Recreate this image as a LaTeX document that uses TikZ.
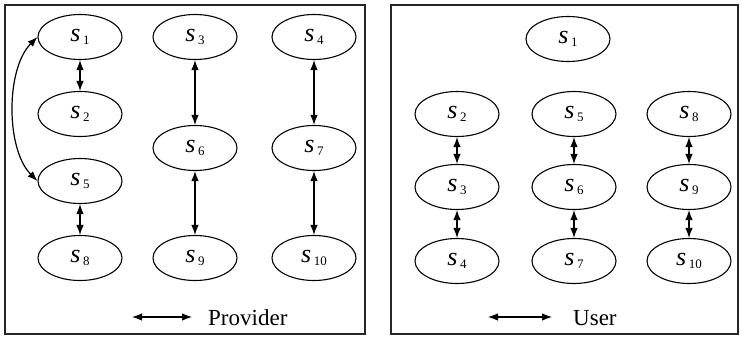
\documentclass[tikz,border=0pt]{standalone}
\usepackage{fontspec}
\setmainfont{Liberation Serif}
\usetikzlibrary{shapes.geometric,arrows.meta}
\newcommand\slab[1]{{\fontsize{26}{26}\selectfont\itshape s}\hspace{2.5pt}\raisebox{-3pt}{\fontsize{13}{13}\selectfont #1}}
\tikzset{
  st/.style={ellipse,draw,line width=1.1pt,minimum width=84pt,minimum height=45pt,inner sep=0pt},
  biarrow/.style={{Latex[length=10pt,width=7.5pt]}-{Latex[length=10pt,width=7.5pt]},line width=1.2pt},
  panel/.style={draw=black!85,line width=1.3pt},
  legend/.style={font=\fontsize{23}{23}\selectfont,anchor=west,inner sep=0pt}
}
\begin{document}
\begin{tikzpicture}[x=1pt,y=-1pt]
\useasboundingbox (0,0) rectangle (740,338);
% panels
\draw[panel] (5,5) rectangle (365,334);
\draw[panel] (391,5) rectangle (738,334);
% Provider panel
\node[st] (p1) at (80,37) {\slab{1}};
\node[st] (p2) at (80,114) {\slab{2}};
\node[st] (p5) at (80,181) {\slab{5}};
\node[st] (p8) at (80,258) {\slab{8}};
\node[st] (p3) at (195,37) {\slab{3}};
\node[st] (p6) at (195,148) {\slab{6}};
\node[st] (p9) at (195,258) {\slab{9}};
\node[st] (p4) at (314,37) {\slab{4}};
\node[st] (p7) at (314,148) {\slab{7}};
\node[st] (p10) at (314,258) {\slab{10}};
\draw[biarrow] (p1) -- (p2);
\draw[biarrow] (p5) -- (p8);
\draw[biarrow] (p3) -- (p6);
\draw[biarrow] (p6) -- (p9);
\draw[biarrow] (p4) -- (p7);
\draw[biarrow] (p7) -- (p10);
\draw[biarrow] (p1.west) to[out=225,in=135,looseness=0.8] (p5.west);
% Provider legend
\coordinate (pl1) at (132,317);
\coordinate (pl2) at (192,317);
\draw[biarrow] (pl1) -- (pl2);
\node[legend] (plt) at (208,318) {Provider};
% User panel
\node[st] (u1) at (568,39) {\slab{1}};
\node[st] (u2) at (457,114) {\slab{2}};
\node[st] (u3) at (457,187) {\slab{3}};
\node[st] (u4) at (457,261) {\slab{4}};
\node[st] (u5) at (574,114) {\slab{5}};
\node[st] (u6) at (574,187) {\slab{6}};
\node[st] (u7) at (574,261) {\slab{7}};
\node[st] (u8) at (689,114) {\slab{8}};
\node[st] (u9) at (689,187) {\slab{9}};
\node[st] (u10) at (689,261) {\slab{10}};
\draw[biarrow] (u2) -- (u3);
\draw[biarrow] (u3) -- (u4);
\draw[biarrow] (u5) -- (u6);
\draw[biarrow] (u6) -- (u7);
\draw[biarrow] (u8) -- (u9);
\draw[biarrow] (u9) -- (u10);
% User legend
\coordinate (ul1) at (488,317);
\coordinate (ul2) at (552,317);
\draw[biarrow] (ul1) -- (ul2);
\node[legend] (ult) at (573,318) {User};
\end{tikzpicture}
\end{document}
